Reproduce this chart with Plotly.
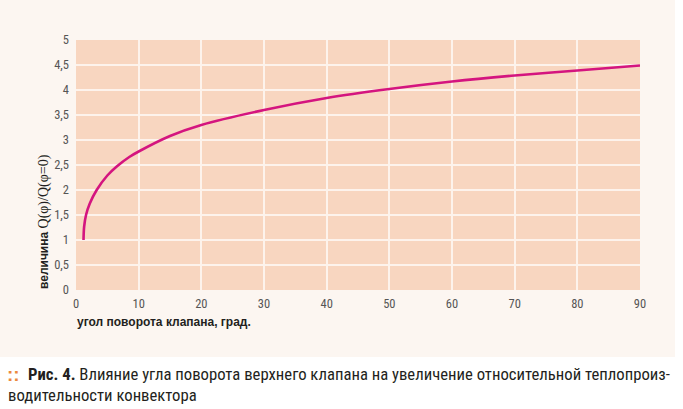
import plotly.graph_objects as go

# Data
angle = [1.2, 1.3, 1.6, 2.2, 3.3, 5.0, 6.5, 8.5, 10, 15, 20, 30, 40, 50, 60, 70, 80, 90]
ratio = [1.0, 1.27, 1.5, 1.73, 2.0, 2.29, 2.47, 2.66, 2.77, 3.08, 3.3, 3.6, 3.84, 4.02, 4.17, 4.29, 4.39, 4.49]

x_ticks = [0, 10, 20, 30, 40, 50, 60, 70, 80, 90]
y_ticks = [0, 0.5, 1, 1.5, 2, 2.5, 3, 3.5, 4, 4.5, 5]
y_tick_text = ["0", "0,5", "1", "1,5", "2", "2,5", "3", "3,5", "4", "4,5", "5"]

W, H = 683, 409
L, R, T, B = 76, 43, 40, 119
pw, ph = W - L - R, H - T - B

def px(xp):
    return (xp - L) / pw

def py(yp):
    return (H - B - yp) / ph

NARROW = "Liberation Sans Narrow, Roboto Condensed, Arial Narrow, sans-serif"
CREAM = "#fcf6f1"

fig = go.Figure()
fig.add_trace(go.Scatter(
    x=angle, y=ratio, mode="lines",
    line=dict(color="#d4157f", width=2.6, shape="spline", smoothing=1.0),
    hoverinfo="skip", showlegend=False,
))

fig.update_layout(
    width=W, height=H,
    margin=dict(l=L, r=R, t=T, b=B, autoexpand=False),
    paper_bgcolor=CREAM,
    plot_bgcolor="#f8d6c0",
    xaxis=dict(range=[0, 90], tickvals=x_ticks, showgrid=True, gridcolor="#fdf3ec",
               gridwidth=1.5, zeroline=False, showline=False, ticks="",
               tickfont=dict(family=NARROW, size=12.5, color="#555555"), ticklabelstandoff=4),
    yaxis=dict(range=[0, 5], tickvals=y_ticks, ticktext=y_tick_text, showgrid=True,
               gridcolor="#fdf3ec", gridwidth=1.5, zeroline=False, showline=False, ticks="",
               tickfont=dict(family=NARROW, size=12.5, color="#555555"), ticklabelstandoff=6),
    shapes=[
        dict(type="rect", xref="paper", yref="paper", x0=px(-5), x1=px(690), y0=py(415), y1=py(357),
             fillcolor="#ffffff", line=dict(width=0), layer="below"),
        dict(type="rect", xref="paper", yref="paper", x0=px(675), x1=px(690), y0=py(357), y1=py(-5),
             fillcolor="#ffffff", line=dict(width=0), layer="below"),
    ],
    annotations=[
        dict(xref="paper", yref="paper", x=px(44), y=py(222), xanchor="center", yanchor="middle",
             textangle=-90, showarrow=False,
             text="<b>величина</b> <span style='font-family:Liberation Serif, serif;font-size:14px'>Q(φ)/Q(φ=0)</span>",
             font=dict(family="Liberation Sans, Arial, sans-serif", size=12, color="#231f20")),
        dict(xref="paper", yref="paper", x=px(75), y=py(322), xanchor="left", yanchor="middle",
             showarrow=False, text="<b>угол поворота клапана, град.</b>",
             font=dict(family="Liberation Sans, Arial, sans-serif", size=12, color="#231f20")),
        dict(xref="paper", yref="paper", x=px(5), y=py(374), xanchor="left", yanchor="middle",
             showarrow=False, text="<b>::</b>",
             font=dict(family="Liberation Sans, Arial, sans-serif", size=19, color="#ec8a3e")),
        dict(xref="paper", yref="paper", x=px(26), y=py(374), xanchor="left", yanchor="middle",
             showarrow=False,
             text="<b>Рис. 4.</b> Влияние угла поворота верхнего клапана на увеличение относительной теплопроиз-",
             font=dict(family=NARROW, size=16.7, color="#231f20")),
        dict(xref="paper", yref="paper", x=px(6), y=py(395), xanchor="left", yanchor="middle",
             showarrow=False, text="водительности конвектора",
             font=dict(family=NARROW, size=16.7, color="#231f20")),
    ],
)

fig.write_html("out.html")
